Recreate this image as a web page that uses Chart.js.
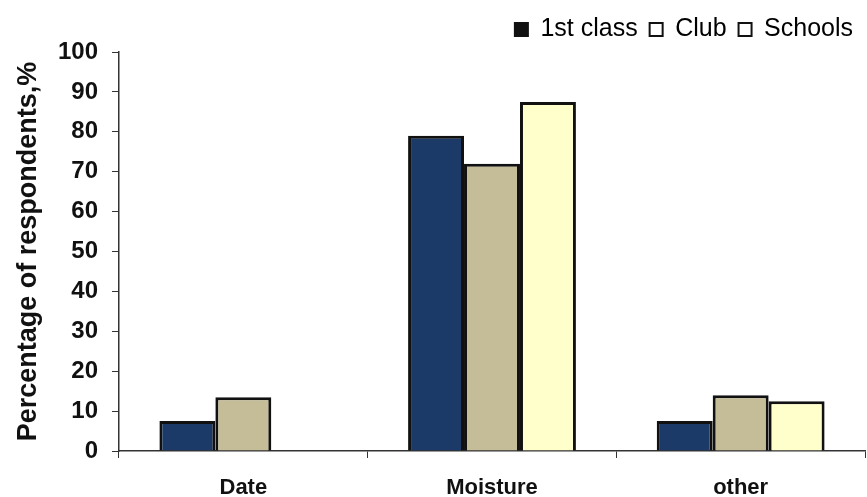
<!DOCTYPE html>
<html>
<head>
<meta charset="utf-8">
<script src="https://cdn.jsdelivr.net/npm/chart.js@4/dist/chart.umd.min.js"></script>
<style>
  html, body { margin: 0; padding: 0; background: #fff; }
  #wrap { width: 867px; height: 497px; position: relative; }
</style>
</head>
<body>
<div id="wrap"><canvas id="c" width="867" height="497"></canvas></div>
<script>
const categories = ['Date', 'Moisture', 'other'];
const seriesNames = ['1st class', 'Club', 'Schools'];
const firstClass = [7.5, 79, 7.5];
const club = [13.5, 72, 14];
const schools = [null, 87.5, 12.5];
const yTicks = [0, 10, 20, 30, 40, 50, 60, 70, 80, 90, 100];

const fillColors = ['#1b3a68', '#c4bd97', '#ffffcc'];
const legendFills = ['#111111', '#ffffff', '#ffffff'];
const FONT = '"Liberation Sans", Arial, sans-serif';

new Chart(document.getElementById('c'), {
  type: 'bar',
  data: {
    labels: categories,
    datasets: [firstClass, club, schools].map((vals, i) => ({
      label: seriesNames[i],
      data: vals,
      backgroundColor: fillColors[i],
      borderColor: '#111111',
      borderWidth: 3,
      borderSkipped: 'bottom',
      categoryPercentage: 0.675,
      barPercentage: 1.0
    }))
  },
  options: {
    responsive: false,
    animation: false,
    layout: { padding: { left: 12, right: 2, top: 5, bottom: 0 } },
    plugins: {
      tooltip: { enabled: false },
      legend: {
        position: 'top',
        align: 'end',
        labels: {
          color: '#111',
          font: { family: FONT, size: 25 },
          boxWidth: 13,
          boxHeight: 13,
          padding: 12,
          generateLabels: (chart) => chart.data.datasets.map((ds, i) => ({
            text: ds.label,
            fillStyle: legendFills[i],
            strokeStyle: '#111',
            lineWidth: 2,
            datasetIndex: i,
            hidden: false
          }))
        }
      }
    },
    scales: {
      x: {
        offset: true,
        grid: {
          offset: true,
          drawOnChartArea: false,
          drawTicks: true,
          tickLength: 7,
          color: '#333'
        },
        border: { color: '#333', width: 1.5 },
        ticks: {
          color: '#111',
          font: { family: FONT, size: 22, weight: 'bold' },
          padding: 17
        },
        afterFit: (s) => { s.height = 46; }
      },
      y: {
        min: 0,
        max: 100,
        afterBuildTicks: (s) => { s.ticks = yTicks.map(v => ({ value: v })); },
        grid: {
          drawOnChartArea: false,
          drawTicks: true,
          tickLength: 7,
          color: '#333'
        },
        border: { color: '#333', width: 1.5 },
        ticks: {
          color: '#111',
          font: { family: FONT, size: 24, weight: 'bold' },
          padding: 14
        },
        title: {
          display: true,
          text: 'Percentage of respondents,%',
          color: '#111',
          font: { family: FONT, size: 27, weight: 'bold' },
          padding: { top: 0, bottom: 4 }
        },
        afterFit: (s) => { s.width = 107; }
      }
    }
  }
});
</script>
</body>
</html>
